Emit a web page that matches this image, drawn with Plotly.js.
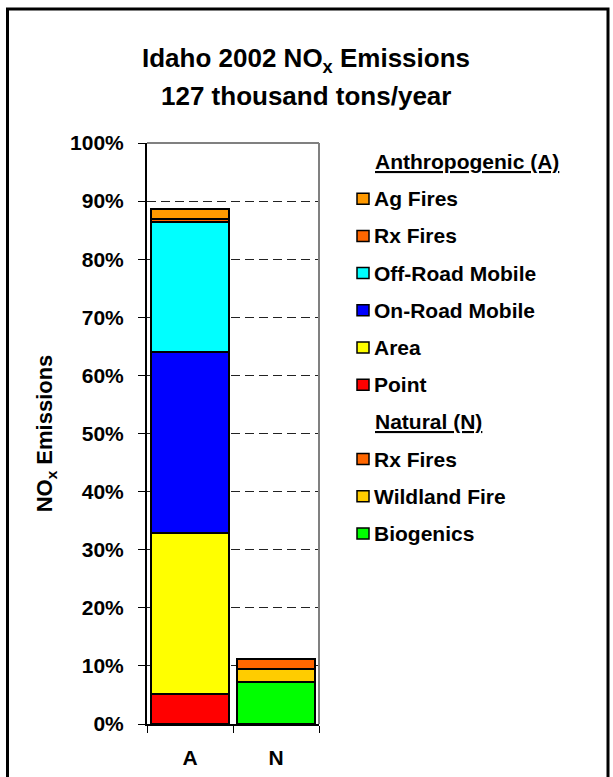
<!DOCTYPE html>
<html>
<head>
<meta charset="utf-8">
<script src="https://cdn.plot.ly/plotly-3.0.1.min.js"></script>
<style>html,body{margin:0;padding:0;background:#fff;}#chart{width:613px;height:777px;}</style>
</head>
<body>
<div id="chart"></div>
<script>
// ---- data ----
const categories = ['A', 'N'];
const anthroNames = ['Point', 'Area', 'On-Road Mobile', 'Off-Road Mobile', 'Rx Fires', 'Ag Fires'];
const anthroValues = [0.052, 0.277, 0.311, 0.224, 0.006, 0.017];
const anthroColors = ['#FF0000', '#FFFF00', '#0000FF', '#00FFFF', '#FF6600', '#FF9900'];
const naturalNames = ['Biogenics', 'Wildland Fire', 'Rx Fires'];
const naturalValues = [0.073, 0.021, 0.018];
const naturalColors = ['#00FF00', '#FFCC00', '#FF6600'];
const yTickVals = [0, 0.1, 0.2, 0.3, 0.4, 0.5, 0.6, 0.7, 0.8, 0.9, 1.0];
const groupTitles = ['Anthropogenic (A)', 'Natural (N)'];

// ---- geometry helpers (pixel -> paper) ----
const W = 613, H = 777;
const L = 147, R = 319, T = 143, B = 724;
const px = x => (x - L) / (R - L);
const py = y => (B - y) / (B - T);
const FONT = 'Liberation Sans, Arial, sans-serif';

const traces = [];
anthroNames.forEach((n, i) => traces.push({
  type: 'bar', x: [categories[0]], y: [anthroValues[i]], name: n,
  marker: {color: anthroColors[i], line: {color: '#000', width: 2}},
  hoverinfo: 'name+y', showlegend: false
}));
naturalNames.forEach((n, i) => traces.push({
  type: 'bar', x: [categories[1]], y: [naturalValues[i]], name: n,
  marker: {color: naturalColors[i], line: {color: '#000', width: 2}},
  hoverinfo: 'name+y', showlegend: false
}));

// ---- custom legend ----
const annotations = [];
const shapes = [];
const rowY0 = 161.5, rowStep = 37.2;
const legendRows = [];
legendRows.push({header: groupTitles[0]});
for (let i = anthroNames.length - 1; i >= 0; i--) legendRows.push({name: anthroNames[i], color: anthroColors[i]});
legendRows.push({header: groupTitles[1]});
for (let i = naturalNames.length - 1; i >= 0; i--) legendRows.push({name: naturalNames[i], color: naturalColors[i]});

legendRows.forEach((r, k) => {
  const yc = rowY0 + k * rowStep;
  if (r.header) {
    annotations.push({xref: 'paper', yref: 'paper', x: px(373), y: py(yc), xanchor: 'left', yanchor: 'middle',
      text: '<span style="text-decoration:underline">' + r.header + '</span>', showarrow: false,
      font: {family: FONT, size: 21, color: '#000', weight: 'bold'}});
  } else {
    shapes.push({type: 'rect', xref: 'paper', yref: 'paper', x0: px(357), x1: px(369), y0: py(yc + 5.5), y1: py(yc - 5.5),
      fillcolor: r.color, line: {color: '#000', width: 1.5}, layer: 'above'});
    annotations.push({xref: 'paper', yref: 'paper', x: px(372), y: py(yc), xanchor: 'left', yanchor: 'middle',
      text: r.name, showarrow: false, font: {family: FONT, size: 21, color: '#000', weight: 'bold'}});
  }
});

// second title line
annotations.push({xref: 'paper', yref: 'paper', x: px(306), y: py(96), xanchor: 'center', yanchor: 'middle',
  text: '127 thousand tons/year', showarrow: false, font: {family: FONT, size: 26, color: '#000', weight: 'bold'}});

// plot-area gray border (top and right)
shapes.push({type: 'line', xref: 'paper', yref: 'paper', x0: 0, x1: 1, y0: 1, y1: 1, line: {color: '#808080', width: 2}, layer: 'above'});
shapes.push({type: 'line', xref: 'paper', yref: 'paper', x0: 1, x1: 1, y0: 0, y1: 1, line: {color: '#808080', width: 2}, layer: 'above'});
// outer frame
shapes.push({type: 'rect', xref: 'paper', yref: 'paper', x0: px(7.5), x1: px(608), y0: py(800), y1: py(9),
  line: {color: '#000', width: 3}, fillcolor: 'rgba(0,0,0,0)', layer: 'above'});

const layout = {
  width: W, height: H,
  margin: {l: L, r: W - R, t: T, b: H - B, pad: 0},
  paper_bgcolor: '#fff', plot_bgcolor: '#fff',
  barmode: 'stack', bargap: 0.09,
  font: {family: FONT, color: '#000', weight: 'bold'},
  title: {text: 'Idaho 2002 NO<sub>x</sub> Emissions', xref: 'container', x: 306 / W, yref: 'container', y: 1 - 58 / H,
    xanchor: 'center', yanchor: 'middle', font: {family: FONT, size: 26, color: '#000', weight: 'bold'}},
  xaxis: {type: 'category', categoryorder: 'array', categoryarray: categories, range: [-0.5, 1.5],
    tickson: 'boundaries', ticks: 'outside', ticklen: 7, tickwidth: 1, tickcolor: '#000',
    showline: true, linecolor: '#000', linewidth: 2, showgrid: false, zeroline: false,
    tickfont: {family: FONT, size: 21, color: '#000', weight: 'bold'}, ticklabelstandoff: 14, fixedrange: true},
  yaxis: {range: [0, 1], tickmode: 'array', tickvals: yTickVals, tickformat: '.0%',
    ticks: 'outside', ticklen: 7, tickwidth: 1, tickcolor: '#000',
    showline: true, linecolor: '#000', linewidth: 2, zeroline: false,
    showgrid: true, gridcolor: '#222', gridwidth: 1, griddash: '9px,5px',
    tickfont: {family: FONT, size: 21, color: '#000', weight: 'bold'}, ticklabelstandoff: 10, fixedrange: true,
    title: {text: 'NO<sub>x</sub> Emissions', standoff: 11, font: {family: FONT, size: 22, color: '#000', weight: 'bold'}}},
  yaxis2: {overlaying: 'y', anchor: 'x', side: 'left', range: [0, 1], tickmode: 'array', tickvals: yTickVals,
    ticks: 'inside', ticklen: 7, tickwidth: 1, tickcolor: '#000', showticklabels: false, showgrid: false,
    showline: false, zeroline: false, fixedrange: true},
  xaxis2: {overlaying: 'x', anchor: 'y', side: 'bottom', type: 'category', categoryarray: categories, range: [-0.5, 1.5],
    tickson: 'boundaries', ticks: 'inside', ticklen: 7, tickwidth: 1, tickcolor: '#000', showticklabels: false,
    showgrid: false, showline: false, zeroline: false, fixedrange: true},
  showlegend: false,
  annotations: annotations,
  shapes: shapes
};

Plotly.newPlot('chart', traces, layout, {displayModeBar: false, staticPlot: true});
</script>
</body>
</html>
